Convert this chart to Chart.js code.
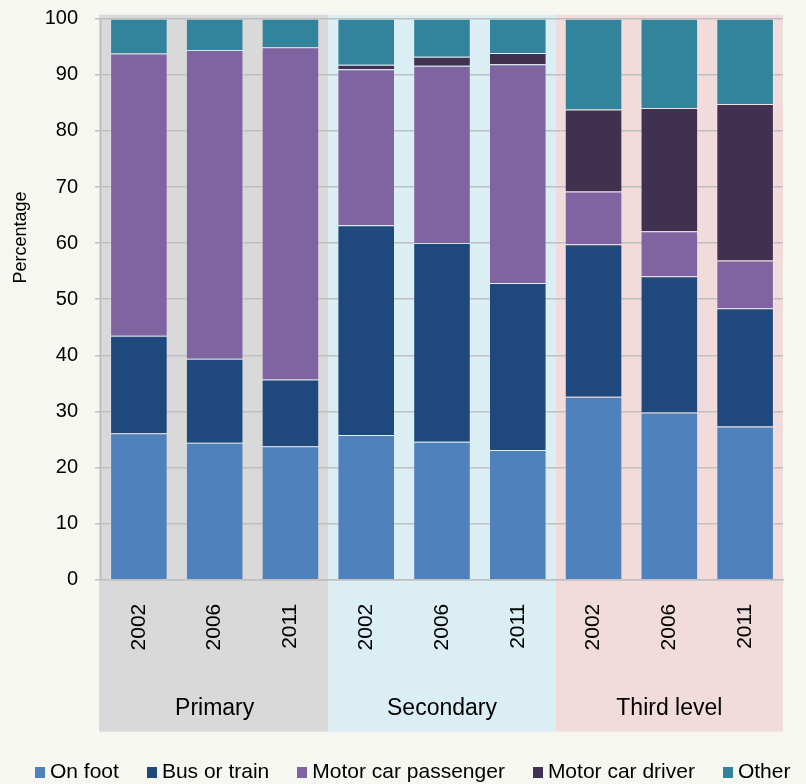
<!DOCTYPE html>
<html><head><meta charset="utf-8">
<script src="https://cdn.jsdelivr.net/npm/chart.js@4.4.0/dist/chart.umd.min.js"></script>
<style>
html,body{margin:0;padding:0;background:#f7f7f1;}
#wrap{position:relative;width:806px;height:784px;}
canvas{display:block;}
#legend{position:absolute;left:35px;top:759px;display:flex;align-items:center;font:21px 'Liberation Sans',Arial,sans-serif;line-height:24px;color:#000;white-space:nowrap;}
.item{display:flex;align-items:center;margin-right:28px;}
.box{width:10px;height:11px;margin-right:5px;position:relative;top:1px;}
</style></head><body>
<div id="wrap"><canvas id="c" width="806" height="784"></canvas><div id="legend"></div></div>
<script>
const FONT = "'Liberation Sans', Arial, sans-serif";
const years = ['2002', '2006', '2011', '2002', '2006', '2011', '2002', '2006', '2011'];
const groups = ['Primary', 'Secondary', 'Third level'];
const bandColors = ['#d9d9d9', '#daeef3', '#f2dcdb'];
const yTicks = [0, 10, 20, 30, 40, 50, 60, 70, 80, 90, 100];

const onFoot    = [26.1, 24.4, 23.8, 25.8, 24.6, 23.1, 32.6, 29.8, 27.3];
const busTrain  = [17.4, 15.0, 11.9, 37.4, 35.4, 29.8, 27.2, 24.3, 21.1];
const passenger = [50.3, 55.0, 59.2, 27.8, 31.6, 39.0, 9.4, 8.0, 8.5];
const driver    = [0, 0, 0, 0.8, 1.6, 2.0, 14.6, 22.0, 27.9];
const other     = [6.2, 5.6, 5.1, 8.2, 6.8, 6.1, 16.2, 15.9, 15.2];

const seriesNames  = ['On foot', 'Bus or train', 'Motor car passenger', 'Motor car driver', 'Other'];
const seriesValues = [onFoot, busTrain, passenger, driver, other];
const seriesColors = ['#4f81bd', '#1f497d', '#8064a2', '#403151', '#31849b'];

const bandsPlugin = {
  id: 'bands',
  beforeDraw(chart) {
    const {ctx, chartArea} = chart;
    const xs = chart.scales.x, x2 = chart.scales.x2;
    const step = xs.getPixelForValue(1) - xs.getPixelForValue(0);
    ctx.save();
    groups.forEach((g, i) => {
      const l = xs.getPixelForValue(i * 3) - step / 2 - (i === 0 ? 2 : 0);
      const r = xs.getPixelForValue(i * 3 + 2) + step / 2;
      ctx.fillStyle = bandColors[i];
      ctx.fillRect(l, chartArea.top - 4, r - l, x2.bottom - chartArea.top + 4);
    });
    ctx.restore();
  }
};

const titlePlugin = {
  id: 'ytitle',
  afterDraw(chart) {
    const {ctx} = chart;
    ctx.save();
    ctx.translate(26, 237.5);
    ctx.rotate(-Math.PI / 2);
    ctx.font = '18px ' + FONT;
    ctx.fillStyle = '#000';
    ctx.textAlign = 'center';
    ctx.textBaseline = 'alphabetic';
    ctx.fillText('Percentage', 0, 0);
    ctx.restore();
  }
};

const chart = new Chart(document.getElementById('c'), {
  type: 'bar',
  data: {
    labels: years,
    datasets: seriesNames.map((n, i) => ({
      label: n,
      data: seriesValues[i],
      backgroundColor: seriesColors[i],
      borderColor: 'rgba(255,255,255,0.16)',
      borderWidth: 1,
      barPercentage: 0.76,
      categoryPercentage: 1.0
    }))
  },
  options: {
    responsive: false,
    animation: false,
    layout: {padding: {top: 18.7, right: 23, bottom: 52.3, left: 0}},
    plugins: {legend: {display: false}, tooltip: {enabled: false}},
    scales: {
      x: {
        stacked: true, position: 'bottom', weight: 0,
        grid: {display: false, drawTicks: false, tickLength: 0},
        border: {display: true, color: '#bfbfbf', width: 1.5},
        ticks: {minRotation: 90, maxRotation: 90, autoSkip: false, padding: 24, color: '#000', font: {size: 21, family: FONT}},
        afterFit(s) { s.height = 76; }
      },
      x2: {
        type: 'category', labels: groups, position: 'bottom', weight: 1, offset: true,
        grid: {display: false, drawTicks: false, tickLength: 0}, border: {display: false},
        ticks: {padding: 39.5, color: '#000', font: {size: 23, family: FONT}},
        afterFit(s) { s.height = 76; }
      },
      y: {
        stacked: true, min: 0, max: 100,
        afterBuildTicks(s) { s.ticks = yTicks.map(v => ({value: v})); },
        ticks: {padding: 17, color: '#000', font: {size: 20, family: FONT}},
        grid: {color: '#bfbfbf', lineWidth: 1.5, tickLength: 6},
        border: {color: '#bfbfbf', width: 1.5},
        afterFit(s) { s.width = 101; s.paddingTop = 12; s.paddingBottom = 12; }
      }
    }
  },
  plugins: [bandsPlugin, titlePlugin]
});

const legend = document.getElementById('legend');
chart.data.datasets.forEach(ds => {
  const item = document.createElement('div');
  item.className = 'item';
  const box = document.createElement('span');
  box.className = 'box';
  box.style.background = ds.backgroundColor;
  const txt = document.createElement('span');
  txt.textContent = ds.label;
  item.appendChild(box); item.appendChild(txt);
  legend.appendChild(item);
});
</script>
</body></html>
